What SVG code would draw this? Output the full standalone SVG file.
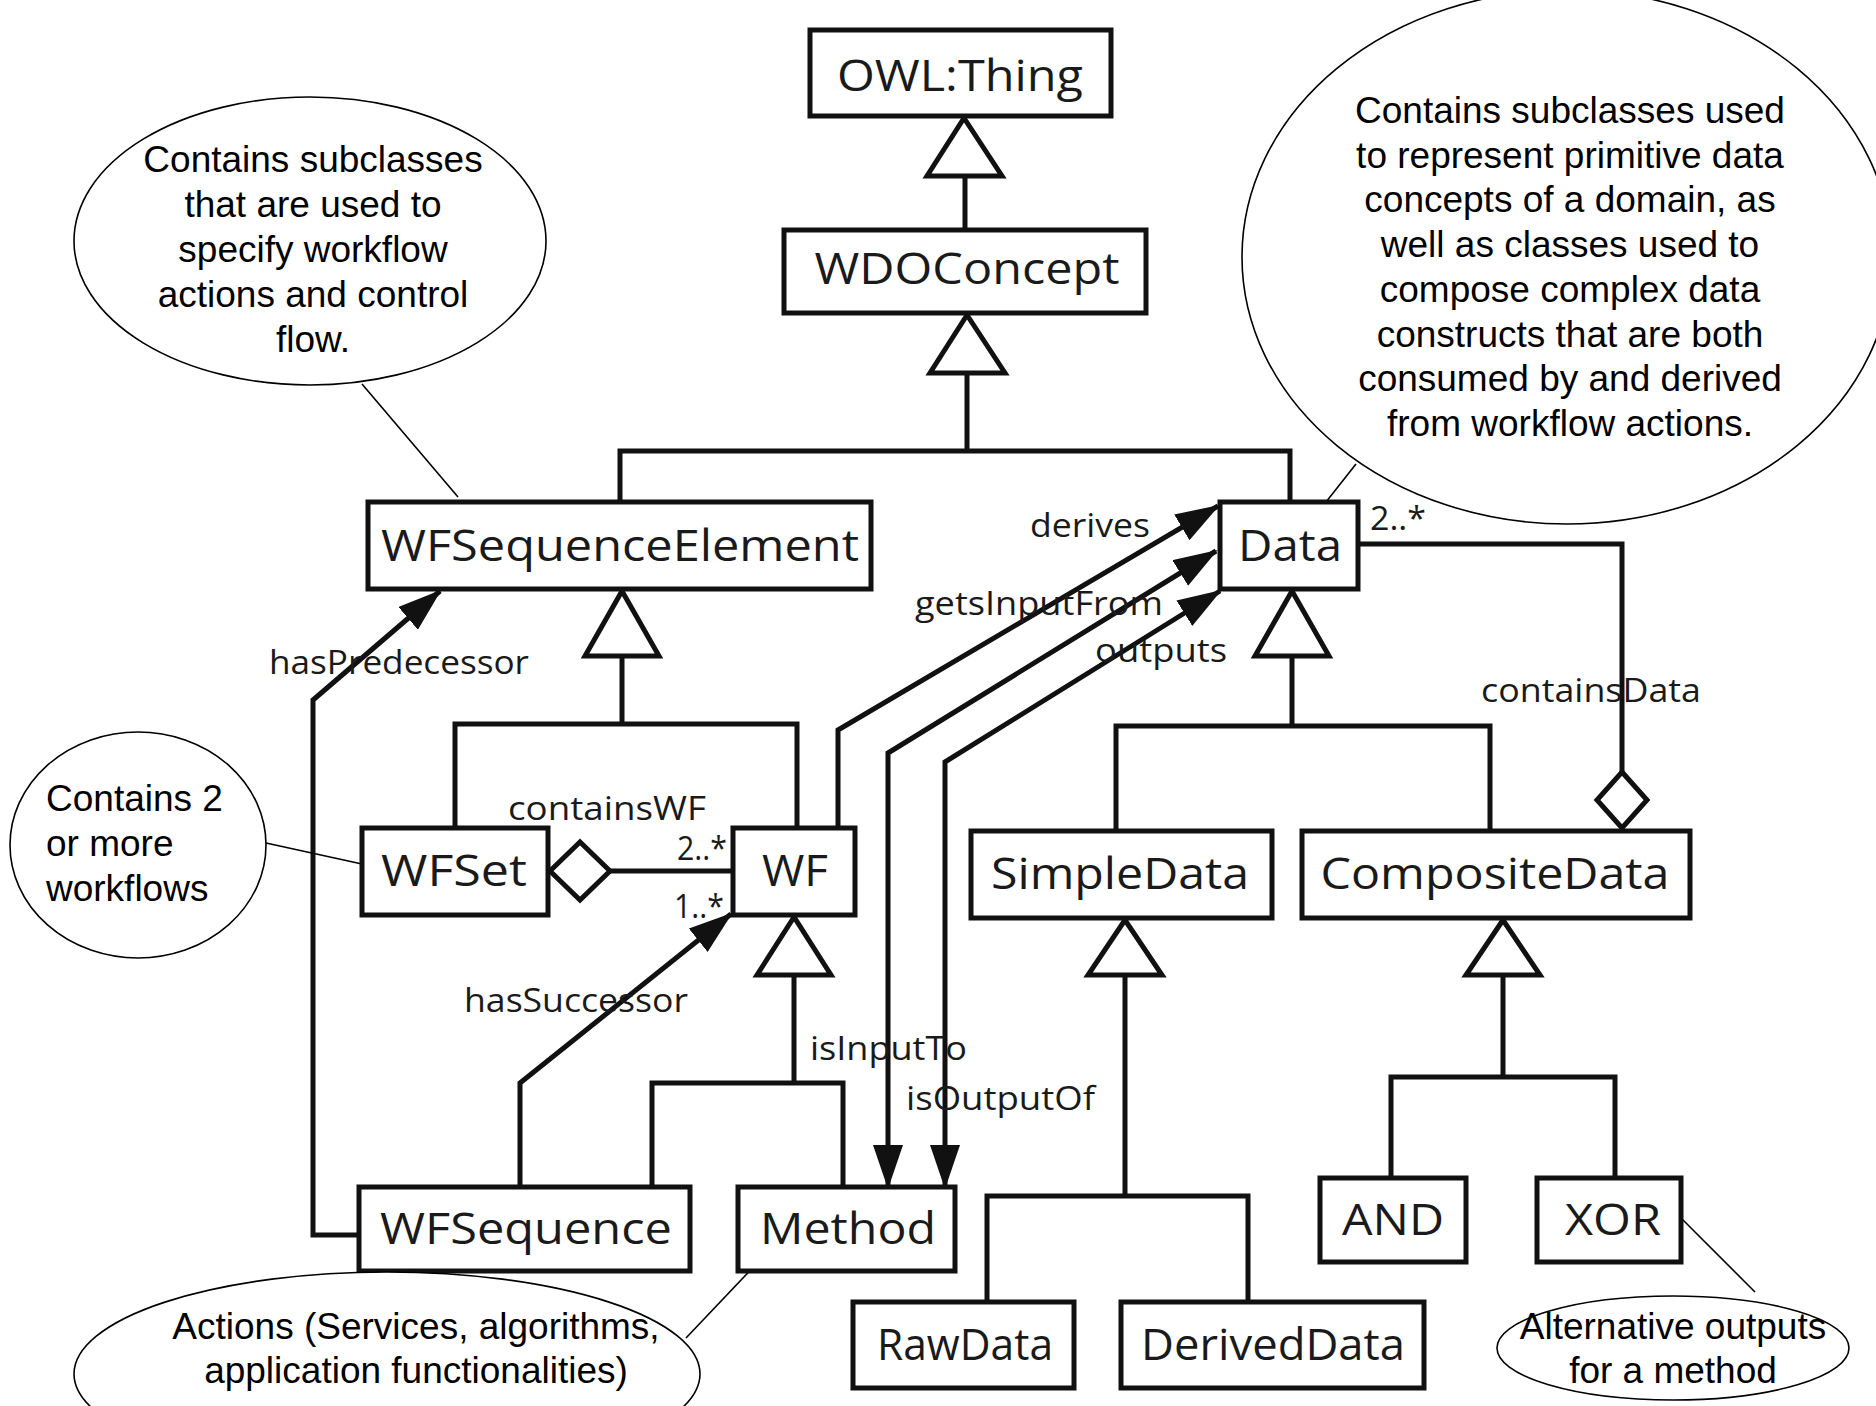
<svg xmlns="http://www.w3.org/2000/svg" width="1876" height="1406" viewBox="0 0 1876 1406">
  <style>
    .box { fill: #ffffff; stroke: #111111; stroke-width: 5; }
    .cls { font-family: "Open Sans", "Noto Sans", "Liberation Sans", sans-serif; font-size: 43px; fill: #1a1a1a; text-anchor: middle; }
    .lbl { font-family: "Open Sans", "Noto Sans", "Liberation Sans", sans-serif; font-size: 33px; fill: #1a1a1a; }
    .wire { fill: none; stroke: #111111; stroke-width: 5; stroke-linejoin: miter; }
    .gen { fill: #ffffff; stroke: #111111; stroke-width: 5; stroke-linejoin: miter; }
    .note { fill: #ffffff; stroke: #000000; stroke-width: 1.6; }
    .noteline { fill: none; stroke: #000000; stroke-width: 1.6; }
    .ntext { font-family: "Liberation Sans", Arial, sans-serif; font-size: 37px; fill: #000000; text-anchor: middle; }
  </style>
  <defs>
    <marker id="arrow" markerUnits="userSpaceOnUse" markerWidth="44" markerHeight="30" refX="42" refY="15" orient="auto-start-reverse">
      <path d="M0,0 L44,15 L0,30 z" fill="#111111"/>
    </marker>
  </defs>

  <rect width="1876" height="1406" fill="#ffffff"/>

  <!-- connectors: generalisation trees, associations, aggregations -->
  <g id="connectors">
    <!-- OWL:Thing <- WDOConcept -->
    <path class="wire" d="M965,176 L965,230"/>
    <polygon class="gen" points="964,118 927,176 1002,176"/>
    <!-- WDOConcept <- WFSequenceElement, Data -->
    <path class="wire" d="M967,373 L967,451 M620,451 L1290,451 M620,448.5 L620,502 M1290,448.5 L1290,502"/>
    <polygon class="gen" points="967,315 930,373 1005,373"/>
    <!-- WFSequenceElement <- WFSet, WF -->
    <path class="wire" d="M622,656 L622,724 M455,724 L797,724 M455,721.5 L455,828 M797,721.5 L797,828"/>
    <polygon class="gen" points="622,591 585,656 659,656"/>
    <!-- WF <- WFSequence, Method -->
    <path class="wire" d="M794,975 L794,1083 M652,1083 L843,1083 M652,1080.5 L652,1187 M843,1080.5 L843,1187"/>
    <polygon class="gen" points="794,917 757,975 831,975"/>
    <!-- Data <- SimpleData, CompositeData -->
    <path class="wire" d="M1292,656 L1292,726 M1116,726 L1490,726 M1116,723.5 L1116,831 M1490,723.5 L1490,831"/>
    <polygon class="gen" points="1292,591 1255,656 1329,656"/>
    <!-- SimpleData <- RawData, DerivedData -->
    <path class="wire" d="M1125,975 L1125,1196 M987,1196 L1248,1196 M987,1193.5 L987,1302 M1248,1193.5 L1248,1302"/>
    <polygon class="gen" points="1125,920 1088,975 1162,975"/>
    <!-- CompositeData <- AND, XOR -->
    <path class="wire" d="M1503,975 L1503,1077 M1391,1077 L1615,1077 M1391,1074.5 L1391,1178 M1615,1074.5 L1615,1178"/>
    <polygon class="gen" points="1503,920 1466,975 1540,975"/>

    <!-- containsWF aggregation -->
    <path class="wire" d="M610,871 L733,871"/>
    <polygon class="gen" points="550,871 580,842 610,871 580,900"/>
    <!-- containsData aggregation -->
    <path class="wire" d="M1358,544 L1622,544 L1622,772"/>
    <polygon class="gen" points="1622,772 1647,800 1622,828 1597,800"/>

    <!-- hasPredecessor -->
    <path class="wire" d="M359,1235 L313,1235 L313,700 L440,591" marker-end="url(#arrow)"/>
    <!-- hasSuccessor -->
    <path class="wire" d="M520,1187 L520,1083 L731,914" marker-end="url(#arrow)"/>
    <!-- derives -->
    <path class="wire" d="M838,828 L838,730 L1218,506" marker-end="url(#arrow)"/>
    <!-- getsInputFrom / isInputTo -->
    <path class="wire" d="M1216,551 L888,753 L888,1187" marker-start="url(#arrow)" marker-end="url(#arrow)"/>
    <!-- outputs / isOutputOf -->
    <path class="wire" d="M1220,591 L945,762 L945,1187" marker-start="url(#arrow)" marker-end="url(#arrow)"/>

    <!-- note leaders -->
    <path class="noteline" d="M362,384 L458,497"/>
    <path class="noteline" d="M1356,464 L1326,502"/>
    <path class="noteline" d="M266,843 L362,864"/>
    <path class="noteline" d="M686,1338 L761,1259"/>
    <path class="noteline" d="M1675,1212 L1755,1292"/>
  </g>

  <!-- association labels and multiplicities -->
  <g id="labels">
    <text class="lbl" x="1030" y="537" textLength="120" lengthAdjust="spacingAndGlyphs">derives</text>
    <text class="lbl" x="915" y="615" textLength="248" lengthAdjust="spacingAndGlyphs">getsInputFrom</text>
    <text class="lbl" x="1095" y="662" textLength="132" lengthAdjust="spacingAndGlyphs">outputs</text>
    <text class="lbl" x="269" y="674" textLength="260" lengthAdjust="spacingAndGlyphs">hasPredecessor</text>
    <text class="lbl" x="508" y="820" textLength="198" lengthAdjust="spacingAndGlyphs">containsWF</text>
    <text class="lbl" x="677" y="860" textLength="50" lengthAdjust="spacingAndGlyphs">2..*</text>
    <text class="lbl" x="674" y="918" textLength="50" lengthAdjust="spacingAndGlyphs">1..*</text>
    <text class="lbl" x="464" y="1012" textLength="224" lengthAdjust="spacingAndGlyphs">hasSuccessor</text>
    <text class="lbl" x="810" y="1060" textLength="157" lengthAdjust="spacingAndGlyphs">isInputTo</text>
    <text class="lbl" x="906" y="1110" textLength="189" lengthAdjust="spacingAndGlyphs">isOutputOf</text>
    <text class="lbl" x="1370" y="530" textLength="56" lengthAdjust="spacingAndGlyphs">2..*</text>
    <text class="lbl" x="1481" y="702" textLength="220" lengthAdjust="spacingAndGlyphs">containsData</text>
  </g>

  <!-- class nodes -->
  <g id="owl-thing">
    <rect class="box" x="810" y="30" width="301" height="86"/>
    <text class="cls" x="960" y="91" textLength="246" lengthAdjust="spacingAndGlyphs">OWL:Thing</text>
  </g>
  <g id="wdo-concept">
    <rect class="box" x="784" y="230" width="362" height="83"/>
    <text class="cls" x="967" y="284" textLength="305" lengthAdjust="spacingAndGlyphs">WDOConcept</text>
  </g>
  <g id="wf-sequence-element">
    <rect class="box" x="368" y="502" width="503" height="87"/>
    <text class="cls" x="620" y="561" textLength="478" lengthAdjust="spacingAndGlyphs">WFSequenceElement</text>
  </g>
  <g id="data">
    <rect class="box" x="1220" y="502" width="138" height="87"/>
    <text class="cls" x="1290" y="561" textLength="104" lengthAdjust="spacingAndGlyphs">Data</text>
  </g>
  <g id="wf-set">
    <rect class="box" x="362" y="828" width="186" height="87"/>
    <text class="cls" x="454" y="886" textLength="146" lengthAdjust="spacingAndGlyphs">WFSet</text>
  </g>
  <g id="wf">
    <rect class="box" x="733" y="828" width="122" height="87"/>
    <text class="cls" x="795" y="886" textLength="66" lengthAdjust="spacingAndGlyphs">WF</text>
  </g>
  <g id="simple-data">
    <rect class="box" x="971" y="831" width="301" height="87"/>
    <text class="cls" x="1120" y="889" textLength="258" lengthAdjust="spacingAndGlyphs">SimpleData</text>
  </g>
  <g id="composite-data">
    <rect class="box" x="1302" y="831" width="388" height="87"/>
    <text class="cls" x="1495" y="889" textLength="349" lengthAdjust="spacingAndGlyphs">CompositeData</text>
  </g>
  <g id="wf-sequence">
    <rect class="box" x="359" y="1187" width="331" height="84"/>
    <text class="cls" x="526" y="1244" textLength="292" lengthAdjust="spacingAndGlyphs">WFSequence</text>
  </g>
  <g id="method">
    <rect class="box" x="738" y="1187" width="217" height="84"/>
    <text class="cls" x="848" y="1244" textLength="176" lengthAdjust="spacingAndGlyphs">Method</text>
  </g>
  <g id="raw-data">
    <rect class="box" x="853" y="1302" width="221" height="86"/>
    <text class="cls" x="965" y="1360" textLength="176" lengthAdjust="spacingAndGlyphs">RawData</text>
  </g>
  <g id="derived-data">
    <rect class="box" x="1121" y="1302" width="303" height="86"/>
    <text class="cls" x="1273" y="1360" textLength="264" lengthAdjust="spacingAndGlyphs">DerivedData</text>
  </g>
  <g id="and">
    <rect class="box" x="1320" y="1178" width="146" height="84"/>
    <text class="cls" x="1393" y="1235" textLength="102" lengthAdjust="spacingAndGlyphs">AND</text>
  </g>
  <g id="xor">
    <rect class="box" x="1537" y="1178" width="144" height="84"/>
    <text class="cls" x="1613" y="1235" textLength="96" lengthAdjust="spacingAndGlyphs">XOR</text>
  </g>

  <!-- explanatory notes -->
  <g id="note-sequence-element">
    <ellipse class="note" cx="310" cy="241" rx="236" ry="144"/>
    <text class="ntext" x="313" y="172">Contains subclasses</text>
    <text class="ntext" x="313" y="217">that are used to</text>
    <text class="ntext" x="313" y="262">specify workflow</text>
    <text class="ntext" x="313" y="307">actions and control</text>
    <text class="ntext" x="313" y="352">flow.</text>
  </g>
  <g id="note-data">
    <ellipse class="note" cx="1567" cy="257" rx="325" ry="267"/>
    <text class="ntext" x="1570" y="123">Contains subclasses used</text>
    <text class="ntext" x="1570" y="168">to represent primitive data</text>
    <text class="ntext" x="1570" y="212">concepts of a domain, as</text>
    <text class="ntext" x="1570" y="257">well as classes used to</text>
    <text class="ntext" x="1570" y="302">compose complex data</text>
    <text class="ntext" x="1570" y="347">constructs that are both</text>
    <text class="ntext" x="1570" y="391">consumed by and derived</text>
    <text class="ntext" x="1570" y="436">from workflow actions.</text>
  </g>
  <g id="note-wf-set">
    <ellipse class="note" cx="138" cy="845" rx="128" ry="113"/>
    <text class="ntext" x="46" y="811" style="text-anchor:start">Contains 2</text>
    <text class="ntext" x="46" y="856" style="text-anchor:start">or more</text>
    <text class="ntext" x="46" y="901" style="text-anchor:start">workflows</text>
  </g>
  <g id="note-method">
    <ellipse class="note" cx="387" cy="1374" rx="313" ry="102"/>
    <text class="ntext" x="416" y="1339">Actions (Services, algorithms,</text>
    <text class="ntext" x="416" y="1383">application functionalities)</text>
  </g>
  <g id="note-xor">
    <ellipse class="note" cx="1673" cy="1348" rx="176" ry="52"/>
    <text class="ntext" x="1673" y="1339">Alternative outputs</text>
    <text class="ntext" x="1673" y="1383">for a method</text>
  </g>
</svg>
